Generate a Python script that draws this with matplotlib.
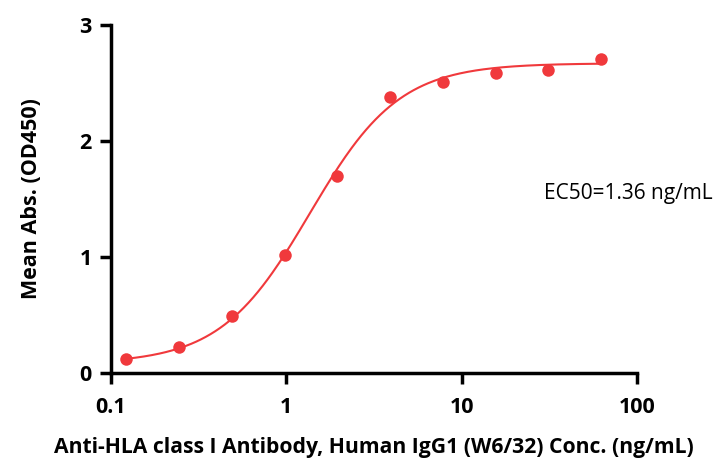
import numpy as np
import matplotlib
matplotlib.use("Agg")
import matplotlib.pyplot as plt

# ---------- data ----------
conc = [0.122, 0.244, 0.488, 0.977, 1.953, 3.906, 7.813, 15.625, 31.25, 62.5]
absorb = [0.12, 0.22, 0.49, 1.02, 1.70, 2.38, 2.51, 2.59, 2.61, 2.71]

# 4PL fit parameters (bottom, top, EC50, hill)
fit_bottom, fit_top, fit_ec50, fit_hill = 0.08, 2.67, 1.36, 1.7

x_ticks = [0.1, 1, 10, 100]
x_ticklabels = ["0.1", "1", "10", "100"]
y_ticks = [0, 1, 2, 3]

RED = "#f0393c"

plt.rcParams["font.family"] = ["Open Sans", "DejaVu Sans"]

fig = plt.figure(figsize=(7.18, 4.66), dpi=100)
ax = fig.add_axes([0.1546, 0.1996, 0.7326, 0.7468])

xs = np.logspace(np.log10(conc[0]), np.log10(conc[-1]), 300)
fit = fit_bottom + (fit_top - fit_bottom) / (1 + (fit_ec50 / xs) ** fit_hill)
ax.plot(xs, fit, color=RED, lw=1.5, zorder=2)
ax.plot(conc, absorb, "o", color=RED, ms=9, mec="none", zorder=3, clip_on=False)

ax.set_xscale("log")
ax.set_xlim(0.1, 100)
ax.set_ylim(0, 3)
ax.set_xticks(x_ticks)
ax.set_xticklabels(x_ticklabels)
ax.xaxis.set_minor_locator(matplotlib.ticker.NullLocator())
ax.set_yticks(y_ticks)

for s in ["top", "right"]:
    ax.spines[s].set_visible(False)
for s in ["left", "bottom"]:
    ax.spines[s].set_linewidth(2.5)
ax.tick_params(width=2.5, length=8, labelsize=15.5, pad=6)
for lab in ax.get_xticklabels() + ax.get_yticklabels():
    lab.set_fontweight("bold")
ax.tick_params(axis="x", pad=9)

ax.set_xlabel("Anti-HLA class I Antibody, Human IgG1 (W6/32) Conc. (ng/mL)",
              fontsize=15.2, fontweight="bold", labelpad=14)
ax.set_ylabel("Mean Abs. (OD450)", fontsize=15.5, fontweight="bold", labelpad=27)

ax.text(0.993, 0.585, "EC50=1.36 ng/mL", transform=fig.transFigure,
        ha="right", va="center", fontsize=15)

fig.savefig("out.png", dpi=100)
